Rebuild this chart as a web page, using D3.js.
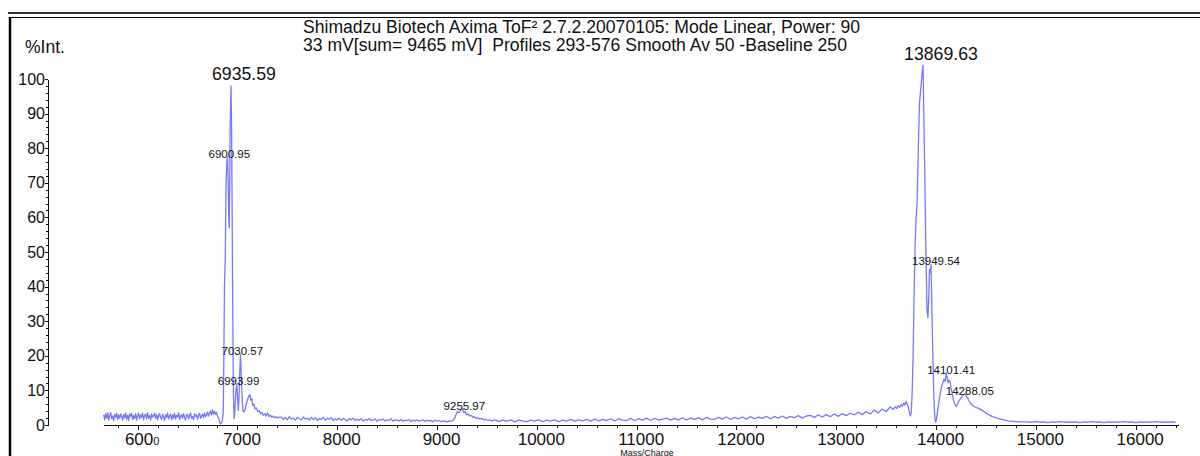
<!DOCTYPE html>
<html>
<head>
<meta charset="utf-8">
<script src="https://cdn.jsdelivr.net/npm/d3@7"></script>
<style>
  html, body { margin: 0; padding: 0; background: #fff; }
  svg { display: block; font-family: "Liberation Sans", Arial, sans-serif; }
  .title { font-size: 17.6px; fill: #111; white-space: pre; }
  .axis text { fill: #111; font-family: "Liberation Sans", Arial, sans-serif; }
  .axis path, .axis line { stroke: #111; shape-rendering: crispEdges; }
</style>
</head>
<body>
<div id="chart"></div>
<script>
// spectrum header
const titleLines = [
  "Shimadzu Biotech Axima ToF\u00b2 2.7.2.20070105: Mode Linear, Power: 90",
  "33 mV[sum= 9465 mV]  Profiles 293-576 Smooth Av 50 -Baseline 250"
];

// axis ticks
const massTicks = [6000, 7000, 8000, 9000, 10000, 11000, 12000, 13000, 14000, 15000, 16000];
const intensityTicks = [0, 10, 20, 30, 40, 50, 60, 70, 80, 90, 100];

// evenly sampled baseline stretches: start m/z, step, intensities (%)
const baseA = {start: 5660, step: 10, values: [
  2.9,1.5,3.3,2.0,3.5,1.4,2.7,3.6,1.8,2.6,
  1.3,3.1,2.2,3.4,1.6,2.9,1.9,3.2,2.4,1.4,
  3.0,2.1,3.5,1.7,2.8,1.3,3.2,2.5,3.4,1.6,
  2.7,1.9,3.3,1.4,2.6,3.5,1.8,2.9,2.2,3.4,
  1.5,2.8,3.1,1.7,3.6,2.0,2.7,1.4,3.2,2.3,
  2.6,3.4,1.9,3.0,1.5,2.8,3.3,2.1,1.6,3.1,
  2.4,1.3,3.0,2.2,3.5,1.8,2.6,3.2,1.5,2.9,
  2.0,3.4,1.7,2.8,2.3,3.6,1.6,2.5,3.0,1.9,
  3.3,2.2,1.4,2.9,3.1,1.8,2.7,3.5,2.0,2.4,
  1.6,3.2,2.5,3.0,1.7,2.8,3.4,1.9,2.6,3.1,
  2.1,3.5,2.4,2.9,3.8,2.6,3.3,4.1,2.9,4.4,
  3.2,4.0,3.1,3.7,2.6]};
const baseC = {start: 7440, step: 20, values: [
  2.3,1.6,2.1,1.5,2.4,1.7,2.0,1.4,2.2,1.8,
  1.5,2.3,1.7,2.0,1.4,2.2,1.6,2.1,1.3,1.9,
  1.6,2.2,1.4,1.9,1.7,2.1,1.3,1.8,1.5,2.0,
  1.4,1.9,1.6,1.2,1.8,1.5,2.0,1.3,1.7,1.4,
  1.8,1.2,1.6,1.4,1.9,1.3,1.5,1.7,1.1,1.6,
  1.4,1.7,1.2,1.5,1.3,1.8,1.1,1.5,1.4,1.2,
  1.6,1.1,1.4,1.3,1.6,1.0,1.4,1.2,1.5,1.1,
  1.3,1.5,1.0,1.4,1.2,1.3,0.9,1.4,1.1,1.3,
  1.0,1.2,1.1,0.9,1.2]};
const baseE = {start: 9580, step: 40, values: [
  1.5,1.0,1.4,1.1,1.5,0.9,1.4,1.1,1.0,1.4,
  1.1,1.5,1.0,1.4,1.1,1.5,1.0,1.4,1.1,1.6,
  1.1,1.5,1.2,1.6,1.1,1.7,1.2,1.6,1.3,1.8,
  1.2,1.8,1.4,1.3,1.9,1.3,1.8,1.4,2.0,1.3,
  1.9,1.4,1.7,2.0,1.4,1.9,1.5,2.1,1.5,2.0,
  1.6,2.1,1.5,2.2,1.7,1.6,2.2,1.7,2.3,1.6,
  2.2,1.8,2.3,1.7,2.4,1.8,2.3,1.9,2.5,1.8,
  2.4,2.0,2.6,1.9,2.5,2.1,2.7,2.0,2.6,2.8,
  2.2,2.9,2.3,3.0,2.4,3.2,2.5,3.3,2.7,3.4,
  2.9,3.7,3.0,3.9,3.2,4.3,3.5,4.6,3.9,5.2]};
const baseG = {start: 14920, step: 40, values: [
  0.9,0.8,1.0,0.8,0.9,0.7,0.9,0.8,1.0,0.8,
  0.9,0.8,0.9,0.7,0.9,0.8,1.0,0.8,0.9,0.7,
  0.9,0.8,0.9,0.8,1.0,0.8,0.9,0.7,0.9,0.8,
  0.9,0.8,1.0,0.8,0.9,0.8,0.9,0.8]};

// peak clusters: [m/z, intensity %]
const clusterB = [
  [6812,2.0],[6824,0.6],[6836,0.4],[6848,1.2],[6858,3.5],[6864,20],[6870,40],[6878,48],
  [6886,70],[6894,76],[6900.95,77.5],[6907,70],[6913,60],[6919,57],[6927,86],[6935.59,98],
  [6942,84],[6948,56],[6954,30],[6960,9],[6967,1.8],[6975,4.5],[6985,10],[6993.99,11.8],
  [7001,8],[7009,4.2],[7016,8],[7023,15],[7030.57,20.5],[7038,14],[7046,8.5],[7055,4],
  [7066,3.8],[7078,4.6],[7090,6.2],[7102,7.4],[7114,8.4],[7125,8.8],[7134,7.2],[7144,7.6],
  [7154,5.6],[7166,6.0],[7178,4.6],[7190,4.9],[7204,3.8],[7218,4.1],[7232,3.2],[7246,3.6],
  [7260,2.8],[7274,3.3],[7288,2.6],[7302,3.5],[7316,2.4],[7330,2.9],[7345,2.2],[7360,2.6],
  [7375,2.1],[7390,2.4],[7405,2.0],[7420,2.3]
];
const clusterD = [
  [9140,1.1],[9160,1.3],[9175,1.9],[9190,3.0],[9205,3.9],[9220,3.5],[9235,4.2],[9255.97,4.6],
  [9268,3.6],[9282,3.9],[9296,3.0],[9310,3.2],[9326,2.6],[9342,2.8],[9358,2.2],[9374,2.4],
  [9390,1.9],[9410,2.1],[9430,1.7],[9450,1.9],[9470,1.5],[9490,1.6],[9510,1.3],[9530,1.5],
  [9550,1.2]
];
const clusterF = [
  [13570,4.5],[13590,5.3],[13605,4.8],[13620,5.6],[13635,5.1],[13650,5.9],[13662,5.4],[13674,6.3],
  [13686,5.8],[13698,6.8],[13710,6.0],[13722,5.2],[13734,3.4],[13744,2.6],[13752,4.0],[13760,9],
  [13770,20],[13780,38],[13790,52],[13800,60],[13810,64],[13822,80],[13834,93],[13846,97],
  [13858,101],[13869.63,104],[13878,88],[13886,74],[13894,58],[13902,44],[13910,33],[13918,31],
  [13926,36],[13934,45],[13941,44],[13949.54,46.4],[13958,34],[13966,22],[13974,12],[13982,5],
  [13990,1.6],[13998,0.8],[14008,2.5],[14020,5],[14035,8],[14050,10.5],[14065,12],[14080,13.2],
  [14092,12.6],[14101.41,15],[14110,13.8],[14120,12.2],[14130,13],[14140,12.5],[14150,10.8],[14162,9],
  [14175,7.2],[14188,6],[14200,5.4],[14212,5.8],[14226,6.8],[14240,7.4],[14254,8.0],[14268,8.6],
  [14288.05,9],[14300,8.4],[14315,7.8],[14330,7.0],[14345,6.3],[14360,5.8],[14375,5.4],[14390,5.2],
  [14405,5.0],[14420,4.9],[14440,4.6],[14460,4.3],[14480,3.9],[14500,3.5],[14520,3.1],[14540,2.8],
  [14560,2.5],[14580,2.3],[14600,2.1],[14630,1.8],[14660,1.6],[14690,1.4],[14720,1.2],[14760,1.1],
  [14800,1.0],[14840,0.9],[14880,0.9]
];

// labelled peaks (m/z); big = main label font
const peakLabels = [
  {mz: 6935.59, big: true},
  {mz: 6900.95, big: false},
  {mz: 7030.57, big: false},
  {mz: 6993.99, big: false},
  {mz: 9255.97, big: false},
  {mz: 13869.63, big: true},
  {mz: 13949.54, big: false},
  {mz: 14101.41, big: false},
  {mz: 14288.05, big: false}
];

const width = 1200;
const height = 456;

function sampled(seg) {
  return seg.values.map((v, i) => [seg.start + i * seg.step, v]);
}
const spectrum = [].concat(
  sampled(baseA), clusterB, sampled(baseC), clusterD,
  sampled(baseE), clusterF, sampled(baseG)
);

const svg = d3.select("#chart").append("svg")
  .attr("width", width).attr("height", height);

const x = d3.scaleLinear().domain([5653, 16424]).range([103, 1178]);
const y = d3.scaleLinear().domain([0, 100]).range([425, 79]);

// frame: double rule on top, heavy rule on the left
svg.append("line").attr("x1", 8).attr("x2", width).attr("y1", 13).attr("y2", 13)
  .attr("stroke", "#333").attr("stroke-width", 2);
svg.append("line").attr("x1", 9).attr("x2", width).attr("y1", 17.5).attr("y2", 17.5)
  .attr("stroke", "#000").attr("stroke-width", 1);
svg.append("line").attr("x1", 10).attr("x2", 10).attr("y1", 17).attr("y2", height)
  .attr("stroke", "#000").attr("stroke-width", 2.5);

// header text
svg.append("text").attr("class", "title").attr("x", 303).attr("y", 32.5).text(titleLines[0]);
svg.append("text").attr("class", "title").attr("x", 303).attr("y", 50.5).text(titleLines[1]);
svg.append("text").attr("x", 25).attr("y", 53).attr("font-size", 17.5).attr("fill", "#111").text("%Int.");

// x axis: minor every 200, major every 1000
const minorMass = d3.range(5800, 16424, 200).filter(v => v % 1000 !== 0);
svg.append("g").attr("class", "axis").attr("transform", "translate(0,425)")
  .call(d3.axisBottom(x).tickValues(minorMass).tickSize(3).tickSizeOuter(0).tickFormat(""));
const xAxisG = svg.append("g").attr("class", "axis").attr("transform", "translate(0,425)")
  .call(d3.axisBottom(x).tickValues(massTicks).tickSize(5).tickSizeOuter(0).tickPadding(3)
    .tickFormat(d3.format("d")));
xAxisG.selectAll(".tick text").attr("x", 4).attr("font-size", 17);
// first label is printed with a shrunken last digit
xAxisG.selectAll(".tick text").filter(d => d === 6000)
  .text(null)
  .call(t => {
    t.append("tspan").text("600");
    t.append("tspan").attr("font-size", 11).text("0");
  });

svg.append("text").attr("x", 647).attr("y", 455.5).attr("text-anchor", "middle")
  .attr("font-size", 9).attr("fill", "#111").text("Mass/Charge");

// y axis: minor every 2, major every 10
svg.append("g").attr("class", "axis").attr("transform", "translate(48,0)")
  .call(d3.axisLeft(y).tickValues(d3.range(0, 101, 2)).tickSize(2).tickSizeOuter(0).tickFormat(""));
svg.append("g").attr("class", "axis").attr("transform", "translate(48,0)")
  .call(d3.axisLeft(y).tickValues(intensityTicks).tickSize(3).tickSizeOuter(0).tickPadding(0))
  .selectAll(".tick text").attr("font-size", 16);

// spectrum trace
const line = d3.line().x(d => x(d[0])).y(d => y(d[1]));
svg.append("path").datum(spectrum)
  .attr("fill", "none")
  .attr("stroke", "#7878ff")
  .attr("stroke-width", 1.3)
  .attr("stroke-linejoin", "round")
  .attr("d", line);

// peak annotations
const intensityAt = mz => spectrum.find(d => d[0] === mz)[1];
svg.selectAll(".peak").data(peakLabels).enter().append("text")
  .attr("class", "peak")
  .attr("x", d => x(d.mz) - 19)
  .attr("y", d => d.big ? y(intensityAt(d.mz)) - 5.5 : y(intensityAt(d.mz)) + 1)
  .attr("font-size", d => d.big ? 17.7 : 11.5)
  .attr("fill", "#111")
  .text(d => d.mz.toFixed(2));
</script>
</body>
</html>
